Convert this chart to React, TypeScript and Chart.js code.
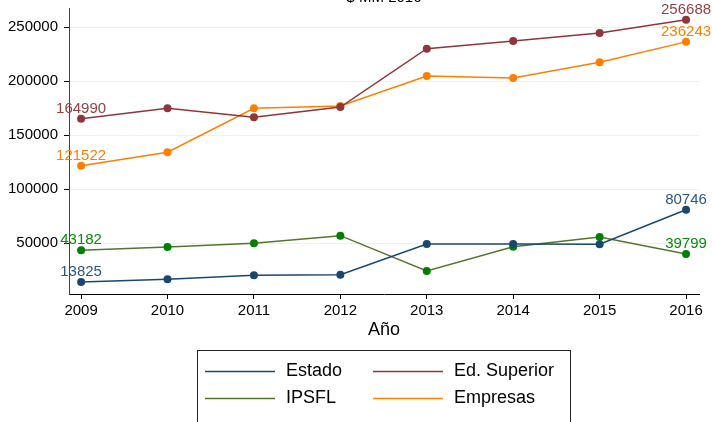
import React, { useEffect, useRef } from "react";
import { Chart, registerables } from "chart.js";

Chart.register(...registerables);

const years = [2009, 2010, 2011, 2012, 2013, 2014, 2015, 2016];
const estado = [13825, 16400, 20100, 20650, 49100, 49000, 48900, 80746];
const edSuperior = [164990, 174700, 166400, 175900, 229900, 237000, 244400, 256688];
const ipsfl = [43182, 46300, 49700, 56800, 24100, 46600, 55600, 39799];
const empresas = [121522, 134000, 174700, 176900, 204600, 202800, 217300, 236243];
const yTicks = [50000, 100000, 150000, 200000, 250000];
const seriesNames = ["Estado", "Ed. Superior", "IPSFL", "Empresas"];
const titleText = "$ MM 2016";
const xTitle = "Año";

const FONT = "'Liberation Sans', Arial, Helvetica, sans-serif";

const lineColors = ["#1a476f", "#90353b", "#55752f", "#ff7f00"];
const markerColors = ["#1a476f", "#90353b", "#008000", "#ff7f00"];
const labelColors = ["#2b5680", "#963f45", "#0a8a0a", "#ff8000"];

const extrasPlugin = {
  id: "extras",
  afterDatasetsDraw(chart: any) {
    const ctx = chart.ctx;
    ctx.save();
    ctx.font = `15px ${FONT}`;
    ctx.textAlign = "center";
    ctx.textBaseline = "alphabetic";
    chart.data.datasets.forEach((ds: any, i: number) => {
      const meta = chart.getDatasetMeta(i);
      const n = meta.data.length;
      [0, n - 1].forEach((idx) => {
        const p = meta.data[idx];
        const v = ds.data[idx].y;
        ctx.fillStyle = labelColors[i];
        ctx.fillText(String(v), p.x, p.y - 6);
      });
    });
    ctx.restore();
  },
  afterDraw(chart: any) {
    const ctx = chart.ctx;
    const area = chart.chartArea;
    ctx.save();
    ctx.fillStyle = "#000";
    ctx.font = `15px ${FONT}`;
    ctx.textAlign = "center";
    ctx.textBaseline = "alphabetic";
    ctx.fillText(titleText, (area.left + area.right) / 2, 2);
    ctx.font = `18px ${FONT}`;
    ctx.fillText(xTitle, (area.left + area.right) / 2, 335);
    ctx.strokeStyle = "#222";
    ctx.lineWidth = 1;
    ctx.strokeRect(197.5, 350.5, 373, 100);
    const cols = [205, 373];
    const rows = [371.5, 398.5];
    ctx.font = `18px ${FONT}`;
    ctx.textAlign = "left";
    ctx.textBaseline = "middle";
    seriesNames.forEach((name, i) => {
      const cx = cols[i % 2];
      const cy = rows[Math.floor(i / 2)];
      ctx.strokeStyle = lineColors[i];
      ctx.lineWidth = 1.5;
      ctx.beginPath();
      ctx.moveTo(cx, cy);
      ctx.lineTo(cx + 70, cy);
      ctx.stroke();
      ctx.fillStyle = "#000";
      ctx.fillText(name, cx + 81, cy);
    });
    ctx.restore();
  },
};

export default function App() {
  const ref = useRef<HTMLCanvasElement>(null);

  useEffect(() => {
    if (!ref.current) return;
    const series = [estado, edSuperior, ipsfl, empresas];
    const chart = new Chart(ref.current, {
      type: "line",
      data: {
        datasets: series.map((vals, i) => ({
          label: seriesNames[i],
          data: vals.map((v, j) => ({ x: years[j], y: v })),
          borderColor: lineColors[i],
          backgroundColor: markerColors[i],
          pointBackgroundColor: markerColors[i],
          pointBorderColor: markerColors[i],
          pointBorderWidth: 0,
          pointRadius: 4,
          borderWidth: 1.5,
          tension: 0,
          fill: false,
        })),
      },
      options: {
        responsive: false,
        animation: false,
        devicePixelRatio: 1,
        layout: { padding: { top: 8, right: 13, bottom: 78, left: 0 } },
        plugins: {
          legend: { display: false },
          tooltip: { enabled: false },
          title: { display: false },
        },
        scales: {
          x: {
            type: "linear",
            min: 2008.86,
            max: 2016.15,
            afterBuildTicks: (s: any) => {
              s.ticks = years.map((v) => ({ value: v }));
            },
            afterFit: (s: any) => {
              s.height = 50;
              s.paddingLeft = 0;
              s.paddingRight = 0;
            },
            ticks: {
              color: "#000",
              font: { size: 15, family: FONT },
              padding: 3,
              maxRotation: 0,
              autoSkip: false,
              callback: (v: any) => String(v),
            },
            grid: {
              drawOnChartArea: false,
              drawTicks: true,
              tickLength: 5,
              tickColor: "#000",
              tickWidth: 1,
            },
            border: { display: true, color: "#000", width: 1 },
          },
          y: {
            type: "linear",
            min: 2778,
            max: 267600,
            afterBuildTicks: (s: any) => {
              s.ticks = yTicks.map((v) => ({ value: v }));
            },
            afterFit: (s: any) => {
              s.width = 69;
              s.paddingTop = 0;
              s.paddingBottom = 0;
            },
            ticks: {
              color: "#000",
              font: { size: 15, family: FONT },
              padding: 6,
              callback: (v: any) => String(v),
            },
            grid: {
              color: "#eaf2f3",
              lineWidth: 1,
              drawTicks: true,
              tickLength: 5,
              tickColor: "#000",
            },
            border: { display: true, color: "#444", width: 1 },
          },
        },
      },
      plugins: [extrasPlugin],
    });
    return () => chart.destroy();
  }, []);

  return (
    <div style={{ position: "absolute", left: 0, top: 0, width: 712, height: 422, background: "#fff" }}>
      <canvas ref={ref} width={712} height={422} style={{ width: 712, height: 422, display: "block" }} />
    </div>
  );
}
